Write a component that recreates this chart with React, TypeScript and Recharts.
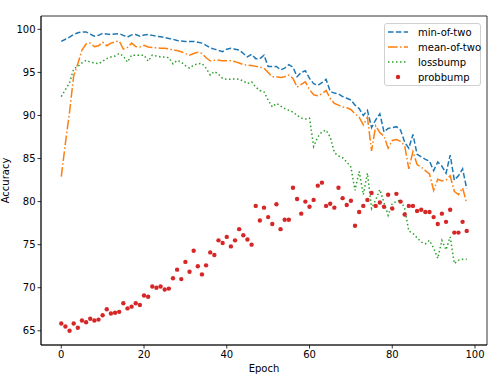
import React from 'react';
import { ComposedChart, Line, XAxis, YAxis, ReferenceArea } from 'recharts';

const epochs: number[] = Array.from({ length: 99 }, (_, i) => i);

const minOfTwo: number[] = [
  98.6, 98.85, 99.1, 99.4, 99.6, 99.7, 99.7, 99.45, 99.2, 99.3,
  99.55, 99.45, 99.4, 99.45, 99.5, 99.3, 99.1, 99.35, 99.4, 99.2,
  99.35, 99.4, 99.3, 99.2, 99.15, 99.05, 98.95, 98.85, 98.7, 98.65,
  98.6, 98.6, 98.6, 98.5, 98.4, 98.15, 97.85, 97.7, 97.55, 97.4,
  97.7, 97.8, 97.7, 97.6, 97.2, 96.8, 97.1, 96.6, 96.6, 97.0,
  95.7, 95.7, 95.7, 95.3, 95.5, 95.9, 95.6, 94.5, 95.0, 95.2,
  94.3, 93.7, 93.5, 93.8, 94.2, 92.8, 92.6, 92.5, 92.2, 92.0,
  91.8, 91.2, 90.8, 90.0, 90.6, 88.6, 89.5, 90.2, 88.1, 88.5,
  88.6, 88.7, 88.3, 86.9, 86.2, 87.8, 85.5, 85.2, 84.9, 84.7,
  83.6, 84.6, 84.1, 83.3, 85.4, 82.5, 83.0, 83.8, 81.5,
];

const meanOfTwo: number[] = [
  82.9, 86.8, 90.4, 94.6, 96.0, 97.6, 98.3, 98.4, 98.0, 98.1,
  98.5, 98.1, 98.4, 98.55, 98.65, 97.7, 97.9, 98.4, 98.0, 97.95,
  98.15, 97.95, 97.9, 97.85, 97.8, 97.8, 97.75, 97.6, 97.55, 97.4,
  97.2, 97.0, 97.2, 97.35, 97.2, 96.7, 96.35, 96.4, 96.4, 96.35,
  96.35, 96.35, 96.25, 96.1, 95.9, 95.85, 95.8, 95.7, 95.6, 95.5,
  95.0, 94.5, 94.5, 94.4, 94.5, 94.7, 94.3, 93.3, 93.6, 93.9,
  93.0, 92.4, 92.3, 92.5, 92.9, 92.0, 91.4, 91.2, 91.0, 90.9,
  90.7, 90.2, 89.8, 88.9, 89.8, 85.9, 88.8, 88.0, 87.6, 86.2,
  87.1, 87.2, 87.0, 86.5, 83.8, 85.8, 84.3, 84.0, 83.6, 83.2,
  81.3, 82.6, 82.4, 82.5, 83.0, 81.2, 80.8, 81.6, 79.8,
];

const lossbump: number[] = [
  92.2, 93.0, 93.8, 95.4, 95.7, 96.1, 96.4, 96.2, 96.1, 96.0,
  96.3, 96.6, 96.8, 96.9, 97.2, 96.9, 96.2, 97.0, 97.0, 97.0,
  97.0, 96.3, 97.0, 96.9, 96.8, 96.8, 96.7, 96.0, 96.4, 96.2,
  95.8, 95.5, 95.85, 96.0, 96.05, 95.5, 94.7, 95.1, 94.8, 94.3,
  94.2, 94.2, 94.25, 94.2, 94.0, 93.7, 93.9, 93.3, 92.9, 92.75,
  91.8, 91.0, 91.4, 91.1, 90.8, 90.6, 90.4, 90.0, 89.7, 89.6,
  89.7, 86.4, 87.5, 88.1, 88.3, 87.5, 85.7, 85.3, 85.1, 84.6,
  84.0, 81.3, 83.5, 80.8, 83.3, 79.2, 80.2, 81.4, 79.9, 78.4,
  79.8, 80.0, 80.2, 79.2, 76.6, 76.3, 75.8, 75.3, 75.1, 75.5,
  74.6, 73.4, 75.5, 74.4, 75.9, 72.8, 73.2, 73.3, 73.3,
];

const probbump: number[] = [
  65.85, 65.5, 65.0, 65.85, 65.35, 66.2, 66.0, 66.4, 66.2, 66.3,
  66.8, 67.5, 67.0, 67.1, 67.2, 68.2, 67.6, 67.8, 68.2, 68.0,
  69.1, 68.95, 70.15, 70.0, 70.15, 69.8, 69.9, 71.1, 72.1, 71.0,
  73.0, 71.85, 74.3, 72.5, 71.55, 72.6, 74.1, 73.8, 75.5, 75.2,
  75.9, 74.8, 75.5, 76.8, 76.1, 75.6, 75.0, 79.5, 77.8, 79.3,
  78.2, 77.4, 79.7, 76.8, 77.9, 77.9, 81.6, 80.3, 78.6, 80.0,
  79.4, 80.2, 81.85, 82.2, 79.5, 79.75, 79.3, 81.6, 80.4, 79.6,
  80.1, 77.2, 78.8, 79.5, 80.2, 81.0, 79.5, 79.9, 79.4, 80.8,
  79.2, 80.9, 80.0, 78.5, 79.5, 79.5, 78.9, 79.05, 78.8, 78.8,
  78.2, 77.4, 78.6, 77.65, 79.05, 76.4, 76.4, 77.65, 76.6,
];

const xTicks: number[] = [0, 20, 40, 60, 80, 100];
const yTicks: number[] = [65, 70, 75, 80, 85, 90, 95, 100];
const xDomain: [number, number] = [-4.9, 102.9];
const yDomain: [number, number] = [63.35, 101.55];

const seriesNames = ['min-of-two', 'mean-of-two', 'lossbump', 'probbump'];
const colors = ['#1f77b4', '#ff7f0e', '#2ca02c', '#d62728'];

const data = epochs.map((e, i) => ({
  epoch: e,
  minOfTwo: minOfTwo[i],
  meanOfTwo: meanOfTwo[i],
  lossbump: lossbump[i],
  probbump: probbump[i],
}));

const FONT = 'DejaVu Sans, sans-serif';
const tickStyle = { fontSize: 10, fill: '#000', fontFamily: FONT };

const dashes = ['5.5 2.4', '9.6 2.4 1.5 2.4', '1.5 2.5', ''];

const LegendBox = () => (
  <div
    style={{
      position: 'absolute',
      left: 384,
      top: 23,
      width: 97,
      height: 63,
      border: '1px solid #d0d0d0',
      borderRadius: 3,
      background: 'rgba(255,255,255,0.8)',
      boxSizing: 'border-box',
      fontFamily: FONT,
      fontSize: 10,
      color: '#000',
    }}
  >
    {seriesNames.map((name, i) => (
      <div
        key={name}
        style={{
          position: 'absolute',
          left: 0,
          top: 1 + i * 15.1,
          height: 14,
          display: 'flex',
          alignItems: 'center',
          whiteSpace: 'nowrap',
        }}
      >
        <svg width={24} height={14} style={{ marginLeft: 2, display: 'block' }}>
          {i < 3 ? (
            <line x1={1} y1={7} x2={21} y2={7} stroke={colors[i]} strokeWidth={1.5} strokeDasharray={dashes[i]} />
          ) : (
            <circle cx={11} cy={7} r={2.2} fill={colors[i]} />
          )}
        </svg>
        <span style={{ marginLeft: 7 }}>{name}</span>
      </div>
    ))}
  </div>
);

const EpochLabel = (props: any) => {
  const vb = props.viewBox || {};
  return (
    <text
      x={vb.x + vb.width / 2}
      y={vb.y + 27}
      textAnchor="middle"
      style={{ fontSize: 10, fill: '#000', fontFamily: FONT }}
    >
      Epoch
    </text>
  );
};

export default function App() {
  return (
    <div style={{ position: 'absolute', left: 0, top: 0, width: 499, height: 376, background: '#fff' }}>
      <ComposedChart
        width={499}
        height={376}
        data={data}
        margin={{ top: 16, right: 12, left: 0, bottom: 0 }}
      >
        <XAxis
          dataKey="epoch"
          type="number"
          domain={xDomain}
          ticks={xTicks}
          allowDataOverflow
          height={31}
          tickSize={3.5}
          tickMargin={2}
          stroke="#000"
          tick={tickStyle}
          axisLine={{ stroke: '#000', strokeWidth: 0.8 }}
          tickLine={{ stroke: '#000', strokeWidth: 0.8 }}
          label={<EpochLabel />}
        />
        <YAxis
          type="number"
          domain={yDomain}
          ticks={yTicks}
          allowDataOverflow
          width={41}
          tickSize={3.5}
          tickMargin={2}
          stroke="#000"
          tick={tickStyle}
          axisLine={{ stroke: '#000', strokeWidth: 0.8 }}
          tickLine={{ stroke: '#000', strokeWidth: 0.8 }}
          label={{ value: 'Accuracy', angle: -90, position: 'insideLeft', offset: 5, style: { fontSize: 10, fill: '#000', fontFamily: FONT, textAnchor: 'middle' } }}
        />
        <ReferenceArea
          x1={xDomain[0]}
          x2={xDomain[1]}
          y1={yDomain[0]}
          y2={yDomain[1]}
          fill="none"
          stroke="#000"
          strokeWidth={0.8}
          ifOverflow="visible"
        />
        <Line dataKey="minOfTwo" stroke={colors[0]} strokeWidth={1.5} strokeDasharray={dashes[0]} dot={false} isAnimationActive={false} />
        <Line dataKey="meanOfTwo" stroke={colors[1]} strokeWidth={1.5} strokeDasharray={dashes[1]} dot={false} isAnimationActive={false} />
        <Line dataKey="lossbump" stroke={colors[2]} strokeWidth={1.5} strokeDasharray={dashes[2]} dot={false} isAnimationActive={false} />
        <Line dataKey="probbump" stroke="none" dot={{ r: 2.2, fill: colors[3], stroke: 'none' }} activeDot={false} isAnimationActive={false} />
      </ComposedChart>
      <LegendBox />
    </div>
  );
}
